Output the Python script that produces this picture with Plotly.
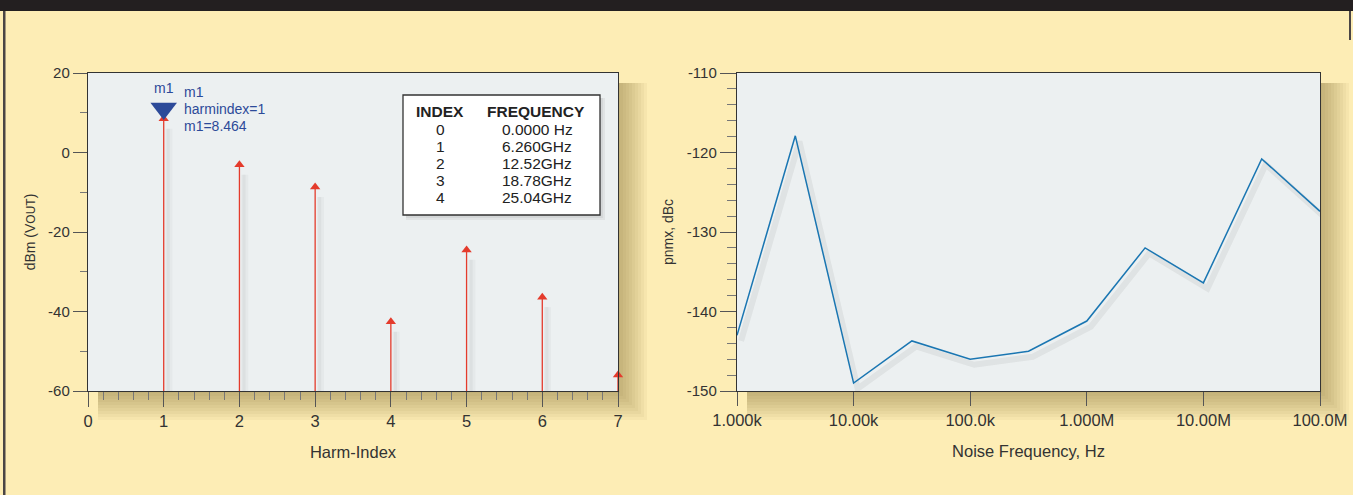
import plotly.graph_objects as go

# ---------------- data ----------------
harm_index = [1, 2, 3, 4, 5, 6, 7]
harm_dbm = [8.464, -3.1, -8.7, -42.6, -24.5, -36.4, -56.0]

table_index = ["0", "1", "2", "3", "4"]
table_freq = ["0.0000 Hz", "6.260GHz", "12.52GHz", "18.78GHz", "25.04GHz"]

noise_freq = [1e3, 3.162e3, 1e4, 3.162e4, 1e5, 3.162e5, 1e6, 3.162e6, 1e7, 3.162e7, 1e8]
pnmx_dbc = [-143.0, -117.9, -149.0, -143.7, -146.0, -145.0, -141.2, -132.0, -136.4, -120.8, -127.4]

noise_tickvals = [1e3, 1e4, 1e5, 1e6, 1e7, 1e8]
noise_ticktext = ["1.000k", "10.00k", "100.0k", "1.000M", "10.00M", "100.0M"]
harm_tickvals = [0, 1, 2, 3, 4, 5, 6, 7]
dbm_tickvals = [-60, -40, -20, 0, 20]
dbm_ticktext = ["-60", "-40", "-20", "0", "20"]
dbc_tickvals = [-150, -140, -130, -120, -110]
dbc_ticktext = ["-150", "-140", "-130", "-120", "-110"]

m1_label = "m1"
m1_index = 1
m1_value = 8.464

# ---------------- layout helpers ----------------
W, H = 1353, 495
CREAM = "#FDEDB5"
PLOTBG = "#ECF0F1"
TXT = "#333333"
FONT = "Liberation Sans, Arial, sans-serif"
RED = "#E43B2C"
BLUE = "#1A76B2"
NAVY = "#2C4A99"


def px(x):
    return x / W


def py(y):
    return 1 - y / H


L_BOX = (88, 73, 618, 391)
R_BOX = (737, 73, 1320, 391)

fig = go.Figure()

# ---- left: stems shadows ----
for off, wdt, alpha in ((0.07, 7, 0.035), (0.06, 3, 0.05)):
    sx, sy = [], []
    for i, v in zip(harm_index, harm_dbm):
        sx += [i + off, i + off, None]
        sy += [-60, v - 2.5, None]
    fig.add_trace(go.Scatter(x=sx, y=sy, mode="lines", line=dict(color=f"rgba(60,60,60,{alpha})", width=wdt),
                             hoverinfo="skip", showlegend=False, xaxis="x", yaxis="y"))
# stems
stx, sty = [], []
for i, v in zip(harm_index, harm_dbm):
    stx += [i, i, None]
    sty += [-60, v, None]
fig.add_trace(go.Scatter(x=stx, y=sty, mode="lines", line=dict(color=RED, width=1.3),
                         showlegend=False, xaxis="x", yaxis="y"))
fig.add_trace(go.Scatter(x=harm_index, y=harm_dbm, mode="markers",
                         marker=dict(symbol="triangle-up", size=9, color=RED),
                         showlegend=False, xaxis="x", yaxis="y", cliponaxis=False))
# marker m1 triangle
fig.add_trace(go.Scatter(x=[m1_index], y=[m1_value + 2.6], mode="markers",
                         marker=dict(symbol="triangle-down", size=23, color=NAVY),
                         showlegend=False, xaxis="x", yaxis="y"))

# ---- right: line shadow + line ----
fig.add_trace(go.Scatter(x=[f * 10 ** 0.035 for f in noise_freq], y=[v - 0.7 for v in pnmx_dbc],
                         mode="lines", line=dict(color="rgba(60,60,60,0.07)", width=6),
                         hoverinfo="skip", showlegend=False, xaxis="x2", yaxis="y2"))
fig.add_trace(go.Scatter(x=noise_freq, y=pnmx_dbc, mode="lines", line=dict(color=BLUE, width=1.5),
                         showlegend=False, xaxis="x2", yaxis="y2"))

shapes = []
# top dark bar and left border
shapes.append(dict(type="rect", xref="paper", yref="paper", x0=0, x1=1, y0=py(11), y1=1,
                   fillcolor="#231F20", line=dict(width=0), layer="below"))
shapes.append(dict(type="rect", xref="paper", yref="paper", x0=px(3), x1=px(5.5), y0=0, y1=py(11),
                   fillcolor="#4a4545", line=dict(width=0), layer="below"))
shapes.append(dict(type="rect", xref="paper", yref="paper", x0=px(1349), x1=px(1351), y0=py(40), y1=py(11),
                   fillcolor="#4a4545", line=dict(width=0), layer="below"))
# plot frame shadows + plot background
for (x0, y0, x1, y1) in (L_BOX, R_BOX):
    for s in range(2, 32, 3):
        shapes.append(dict(type="rect", xref="paper", yref="paper",
                           x0=px(x0 + 10), x1=px(x1 + s), y0=py(y1 + s), y1=py(y0 + 10),
                           fillcolor="rgba(120,90,30,0.05)", line=dict(width=0), layer="below"))
    shapes.append(dict(type="rect", xref="paper", yref="paper",
                       x0=px(x0), x1=px(x1), y0=py(y1), y1=py(y0),
                       fillcolor=PLOTBG, line=dict(width=0), layer="below"))

# table box with shadow
for s in range(1, 7, 2):
    shapes.append(dict(type="rect", xref="paper", yref="paper",
                       x0=px(406), x1=px(600 + s), y0=py(215 + s), y1=py(98),
                       fillcolor="rgba(0,0,0,0.05)", line=dict(width=0), layer="below"))
shapes.append(dict(type="rect", xref="paper", yref="paper",
                   x0=px(403), x1=px(600), y0=py(215), y1=py(95),
                   fillcolor="white", line=dict(color="#333333", width=1.3), layer="below"))

annotations = []
# table text
HFONT = dict(family=FONT, size=15.5, color="#222222")
TFONT = dict(family=FONT, size=15.5, color="#222222")
annotations.append(dict(xref="paper", yref="paper", x=px(440), y=py(111), xanchor="center", yanchor="middle",
                        text="<b>INDEX</b>", showarrow=False, font=HFONT))
annotations.append(dict(xref="paper", yref="paper", x=px(536), y=py(111), xanchor="center", yanchor="middle",
                        text="<b>FREQUENCY</b>", showarrow=False, font=HFONT))
for r, (idx, fr) in enumerate(zip(table_index, table_freq)):
    yy = py(129 + 17 * r)
    annotations.append(dict(xref="paper", yref="paper", x=px(440), y=yy, xanchor="center", yanchor="middle",
                            text=idx, showarrow=False, font=TFONT))
    annotations.append(dict(xref="paper", yref="paper", x=px(537), y=yy, xanchor="center", yanchor="middle",
                            text=fr, showarrow=False, font=TFONT))
# marker texts
MFONT = dict(family=FONT, size=14, color=NAVY)
annotations.append(dict(xref="x", yref="paper", x=m1_index, y=py(88), xanchor="center", yanchor="middle",
                        text=m1_label, showarrow=False, font=MFONT))
for k, line in enumerate([m1_label, f"harmindex={m1_index}", f"{m1_label}={m1_value}"]):
    annotations.append(dict(xref="x", yref="paper", x=m1_index, xshift=18, y=py(92 + 17 * k),
                            xanchor="left", yanchor="middle", text=line, showarrow=False, font=MFONT))

axis_common = dict(showgrid=False, zeroline=False, showline=True, linecolor="#333333", linewidth=1.4,
                   mirror=True, ticks="outside", tickcolor="#555555", tickwidth=1.2, automargin=False)
XTICKFONT = dict(family=FONT, size=16.5, color=TXT)
YTICKFONT = dict(family=FONT, size=15, color=TXT)
XTFONT = dict(family=FONT, size=16.5, color=TXT)
YTFONT = dict(family=FONT, size=14, color=TXT)

fig.update_layout(
    width=W, height=H, autosize=False,
    margin=dict(l=0, r=0, t=0, b=0, pad=0),
    paper_bgcolor=CREAM, plot_bgcolor="rgba(0,0,0,0)",
    showlegend=False,
    shapes=shapes, annotations=annotations,
    xaxis=dict(domain=[px(88), px(618)], range=[0, 7], tickvals=harm_tickvals, ticklen=15,
               tickfont=XTICKFONT,
               minor=dict(dtick=0.2, ticks="outside", ticklen=8, tickcolor="#777777", tickwidth=1),
               title=dict(text="Harm-Index", standoff=17, font=XTFONT),
               anchor="y", **axis_common),
    yaxis=dict(domain=[py(391), py(73)], range=[-60, 20], tickvals=dbm_tickvals, ticktext=dbm_ticktext,
               ticklen=14, tickfont=YTICKFONT,
               minor=dict(dtick=10, ticks="outside", ticklen=7, tickcolor="#777777", tickwidth=1),
               title=dict(text="dBm (V<span style='font-size:12px'>OUT</span>)", standoff=9, font=YTFONT),
               anchor="x", **axis_common),
    xaxis2=dict(domain=[px(737), px(1320)], type="log", range=[3, 8], tickvals=noise_tickvals,
                ticktext=noise_ticktext, ticklen=14, tickfont=XTICKFONT,
                title=dict(text="Noise Frequency, Hz", standoff=17, font=XTFONT),
                anchor="y2", **axis_common),
    yaxis2=dict(domain=[py(391), py(73)], range=[-150, -110], tickvals=dbc_tickvals, ticktext=dbc_ticktext,
                ticklen=16, tickfont=YTICKFONT,
                minor=dict(dtick=2, ticks="outside", ticklen=9, tickcolor="#777777", tickwidth=1),
                title=dict(text="pnmx, dBc", standoff=9, font=YTFONT),
                anchor="x2", **axis_common),
)

fig.write_html("out.html", config={"displayModeBar": False},
               post_script="document.body.style.margin='0';")
